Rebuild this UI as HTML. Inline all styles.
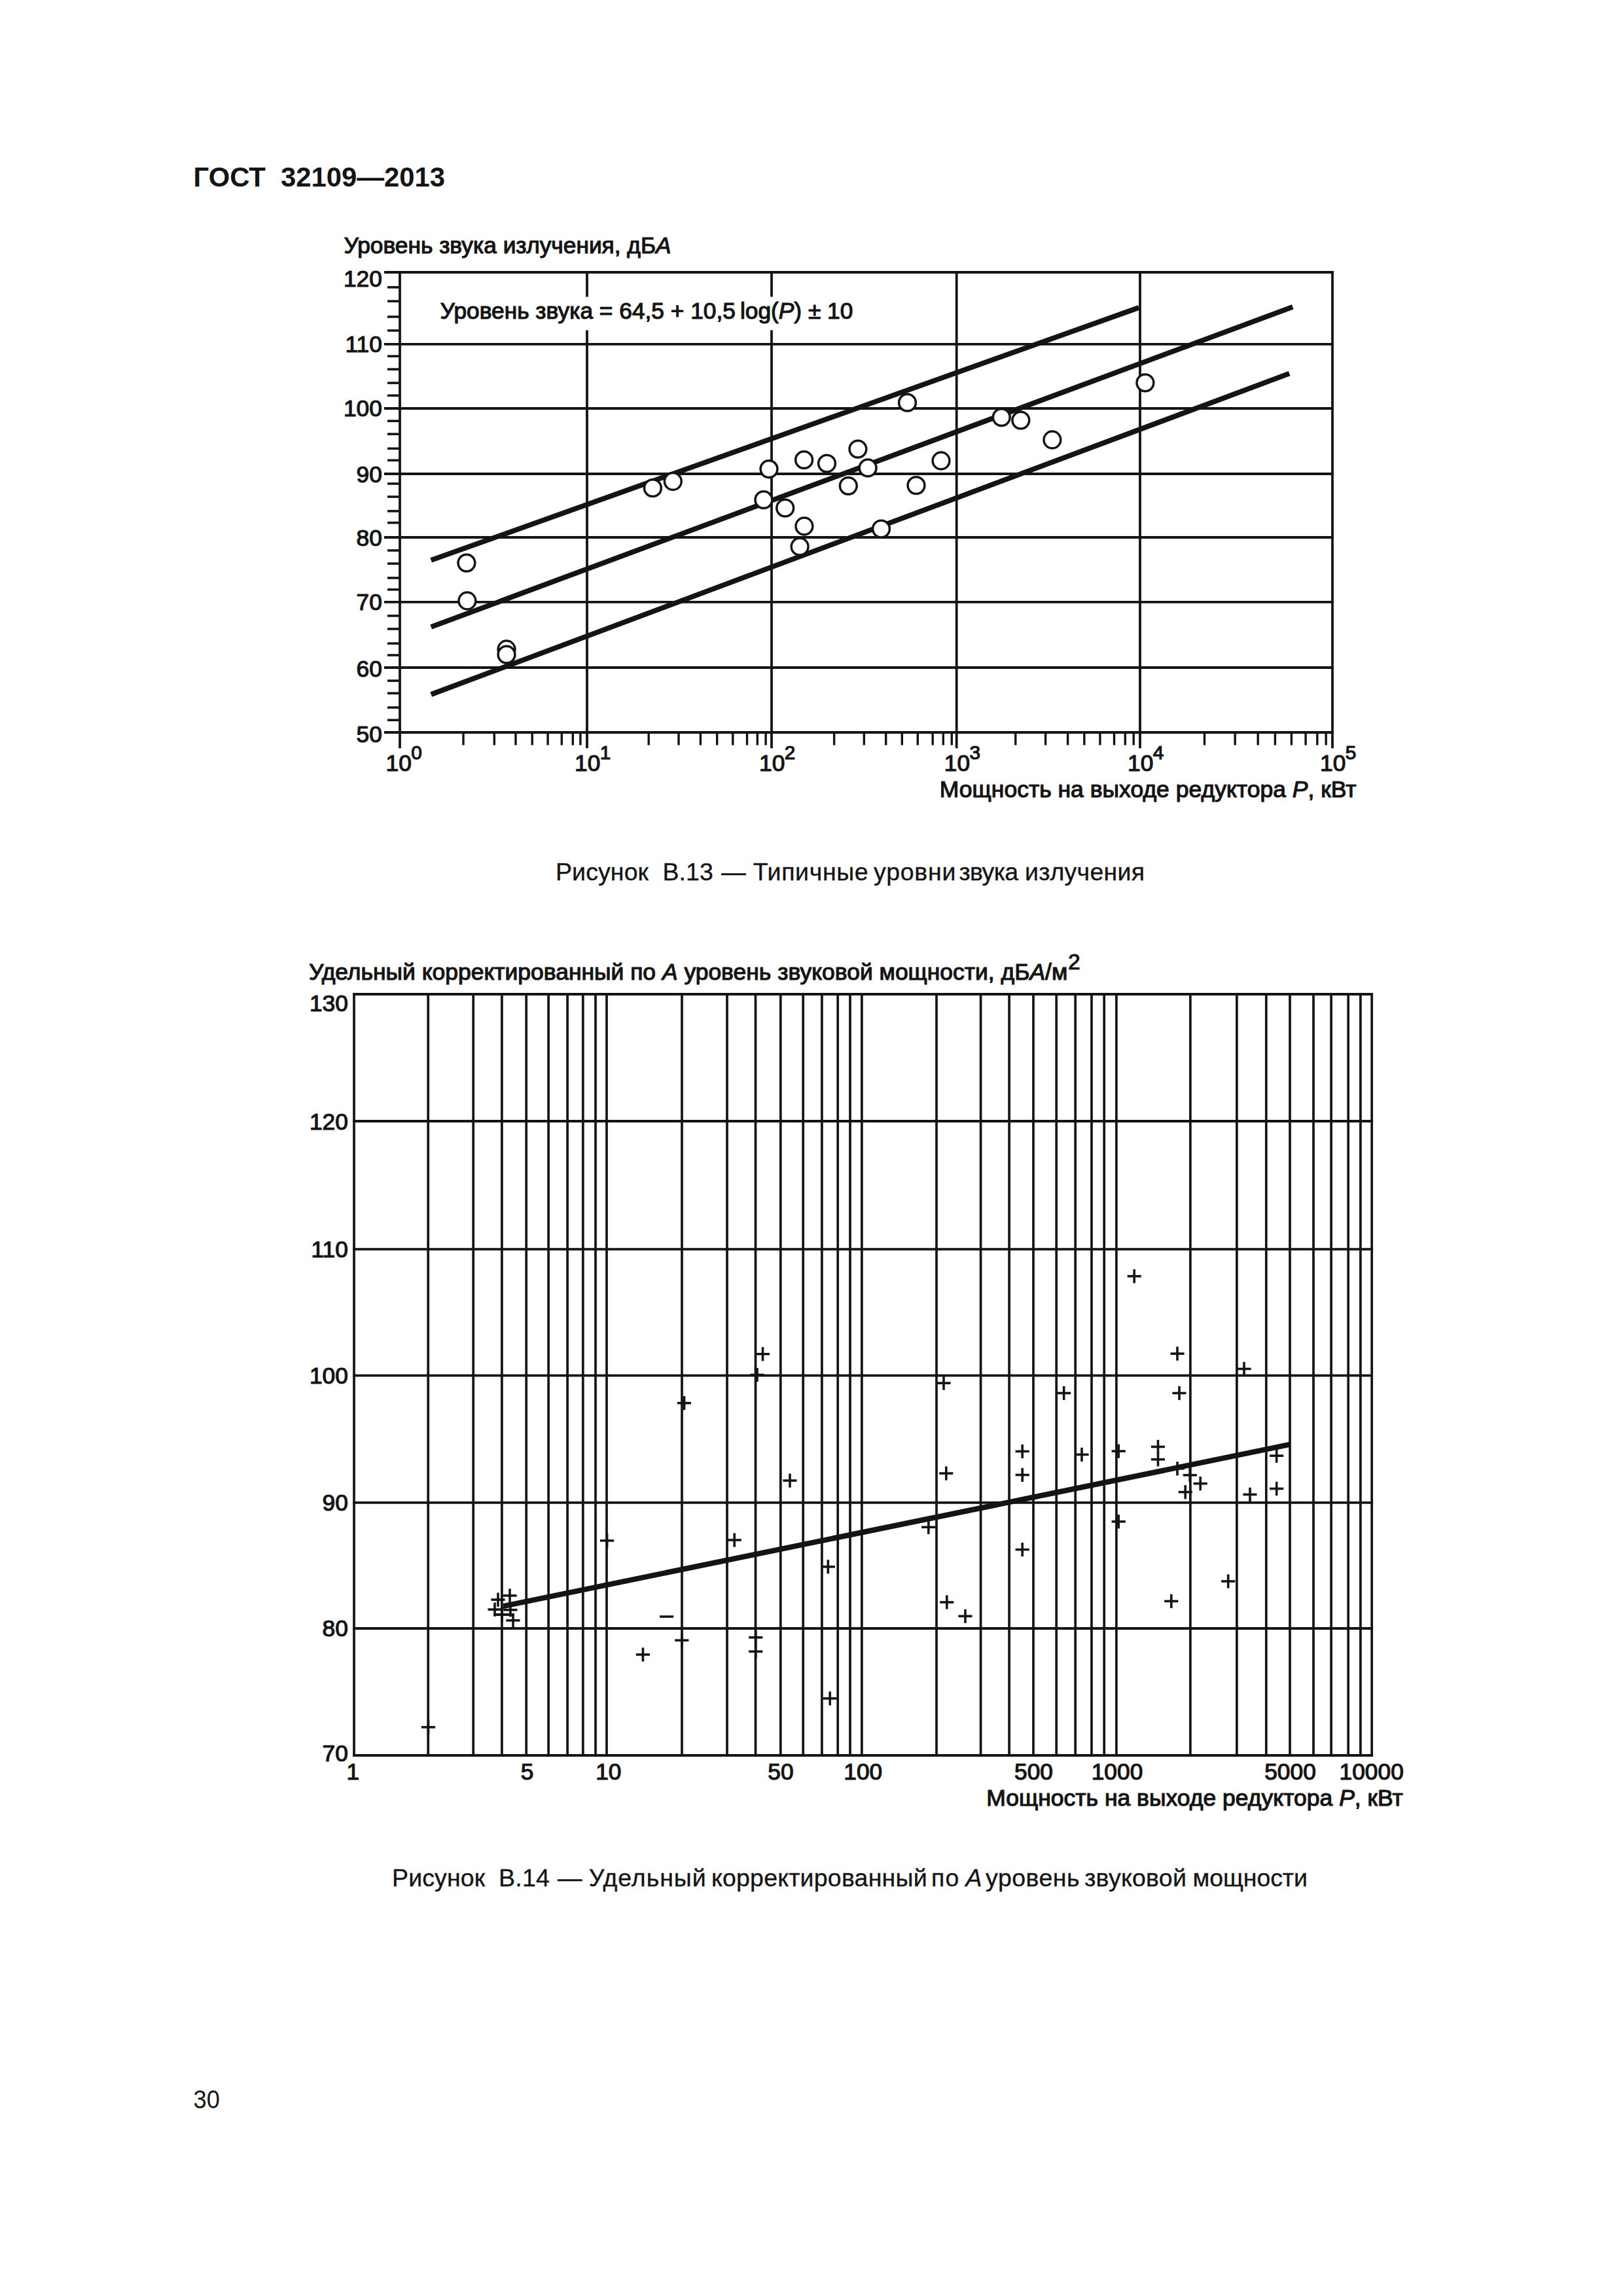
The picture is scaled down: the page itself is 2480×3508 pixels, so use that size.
<!DOCTYPE html>
<html lang="ru">
<head>
<meta charset="utf-8">
<title>ГОСТ 32109—2013</title>
<style>
html,body{margin:0;padding:0;background:#fff;}
body{width:2480px;height:3508px;overflow:hidden;position:relative;}
svg{position:absolute;left:0;top:0;display:block;}
text{font-family:"Liberation Sans",sans-serif;fill:#141414;white-space:pre;}
text.f{stroke:#141414;stroke-width:1.2px;stroke-linejoin:round;}
text.b{font-weight:bold;}
text.n{font-weight:normal;}
text.p{font-weight:normal;stroke:#141414;stroke-width:0.35px;}
</style>
</head>
<body>
<svg width="2480" height="3508" viewBox="0 0 2480 3508">
<text class="b" x="295.5" y="284.7" font-size="41.8" text-anchor="start">ГОСТ&#160;&#160;32109—2013</text>
<text class="n" transform="translate(295.6 3221.0) scale(0.945 1)" font-size="38.3">30</text>
<g stroke="#141414" fill="none">
<line x1="587.0" y1="416.0" x2="2037.9" y2="416.0" stroke-width="3.8" stroke-linecap="butt"/>
<line x1="587.0" y1="525.9" x2="2037.9" y2="525.9" stroke-width="3.8" stroke-linecap="butt"/>
<line x1="587.0" y1="624.0" x2="2037.9" y2="624.0" stroke-width="3.8" stroke-linecap="butt"/>
<line x1="587.0" y1="724.0" x2="2037.9" y2="724.0" stroke-width="3.8" stroke-linecap="butt"/>
<line x1="587.0" y1="821.0" x2="2037.9" y2="821.0" stroke-width="3.8" stroke-linecap="butt"/>
<line x1="587.0" y1="919.9" x2="2037.9" y2="919.9" stroke-width="3.8" stroke-linecap="butt"/>
<line x1="587.0" y1="1020.0" x2="2037.9" y2="1020.0" stroke-width="3.8" stroke-linecap="butt"/>
<line x1="587.0" y1="1119.0" x2="2037.9" y2="1119.0" stroke-width="3.8" stroke-linecap="butt"/>
<line x1="611.0" y1="414.1" x2="611.0" y2="1143.3" stroke-width="3.8" stroke-linecap="butt"/>
<line x1="897.0" y1="414.1" x2="897.0" y2="1143.3" stroke-width="3.8" stroke-linecap="butt"/>
<line x1="1179.0" y1="414.1" x2="1179.0" y2="1143.3" stroke-width="3.8" stroke-linecap="butt"/>
<line x1="1461.7" y1="414.1" x2="1461.7" y2="1143.3" stroke-width="3.8" stroke-linecap="butt"/>
<line x1="1742.0" y1="414.1" x2="1742.0" y2="1143.3" stroke-width="3.8" stroke-linecap="butt"/>
<line x1="2036.0" y1="414.1" x2="2036.0" y2="1143.3" stroke-width="3.8" stroke-linecap="butt"/>
<line x1="592.0" y1="438.9" x2="611.0" y2="438.9" stroke-width="3.6" stroke-linecap="butt"/>
<line x1="592.0" y1="460.2" x2="611.0" y2="460.2" stroke-width="3.6" stroke-linecap="butt"/>
<line x1="592.0" y1="484.0" x2="611.0" y2="484.0" stroke-width="3.6" stroke-linecap="butt"/>
<line x1="592.0" y1="505.0" x2="611.0" y2="505.0" stroke-width="3.6" stroke-linecap="butt"/>
<line x1="592.0" y1="544.2" x2="611.0" y2="544.2" stroke-width="3.6" stroke-linecap="butt"/>
<line x1="592.0" y1="564.2" x2="611.0" y2="564.2" stroke-width="3.6" stroke-linecap="butt"/>
<line x1="592.0" y1="585.1" x2="611.0" y2="585.1" stroke-width="3.6" stroke-linecap="butt"/>
<line x1="592.0" y1="604.3" x2="611.0" y2="604.3" stroke-width="3.6" stroke-linecap="butt"/>
<line x1="592.0" y1="643.2" x2="611.0" y2="643.2" stroke-width="3.6" stroke-linecap="butt"/>
<line x1="592.0" y1="663.2" x2="611.0" y2="663.2" stroke-width="3.6" stroke-linecap="butt"/>
<line x1="592.0" y1="685.3" x2="611.0" y2="685.3" stroke-width="3.6" stroke-linecap="butt"/>
<line x1="592.0" y1="703.3" x2="611.0" y2="703.3" stroke-width="3.6" stroke-linecap="butt"/>
<line x1="592.0" y1="739.0" x2="611.0" y2="739.0" stroke-width="3.6" stroke-linecap="butt"/>
<line x1="592.0" y1="759.0" x2="611.0" y2="759.0" stroke-width="3.6" stroke-linecap="butt"/>
<line x1="592.0" y1="780.9" x2="611.0" y2="780.9" stroke-width="3.6" stroke-linecap="butt"/>
<line x1="592.0" y1="798.7" x2="611.0" y2="798.7" stroke-width="3.6" stroke-linecap="butt"/>
<line x1="592.0" y1="841.0" x2="611.0" y2="841.0" stroke-width="3.6" stroke-linecap="butt"/>
<line x1="592.0" y1="861.1" x2="611.0" y2="861.1" stroke-width="3.6" stroke-linecap="butt"/>
<line x1="592.0" y1="883.0" x2="611.0" y2="883.0" stroke-width="3.6" stroke-linecap="butt"/>
<line x1="592.0" y1="900.8" x2="611.0" y2="900.8" stroke-width="3.6" stroke-linecap="butt"/>
<line x1="592.0" y1="940.9" x2="611.0" y2="940.9" stroke-width="3.6" stroke-linecap="butt"/>
<line x1="592.0" y1="960.9" x2="611.0" y2="960.9" stroke-width="3.6" stroke-linecap="butt"/>
<line x1="592.0" y1="983.1" x2="611.0" y2="983.1" stroke-width="3.6" stroke-linecap="butt"/>
<line x1="592.0" y1="1001.0" x2="611.0" y2="1001.0" stroke-width="3.6" stroke-linecap="butt"/>
<line x1="592.0" y1="1040.1" x2="611.0" y2="1040.1" stroke-width="3.6" stroke-linecap="butt"/>
<line x1="592.0" y1="1059.2" x2="611.0" y2="1059.2" stroke-width="3.6" stroke-linecap="butt"/>
<line x1="592.0" y1="1081.0" x2="611.0" y2="1081.0" stroke-width="3.6" stroke-linecap="butt"/>
<line x1="592.0" y1="1100.2" x2="611.0" y2="1100.2" stroke-width="3.6" stroke-linecap="butt"/>
<line x1="708.0" y1="1119.0" x2="708.0" y2="1138.5" stroke-width="3.4" stroke-linecap="butt"/>
<line x1="755.3" y1="1119.0" x2="755.3" y2="1138.5" stroke-width="3.4" stroke-linecap="butt"/>
<line x1="788.0" y1="1119.0" x2="788.0" y2="1138.5" stroke-width="3.4" stroke-linecap="butt"/>
<line x1="813.2" y1="1119.0" x2="813.2" y2="1138.5" stroke-width="3.4" stroke-linecap="butt"/>
<line x1="837.1" y1="1119.0" x2="837.1" y2="1138.5" stroke-width="3.4" stroke-linecap="butt"/>
<line x1="858.3" y1="1119.0" x2="858.3" y2="1138.5" stroke-width="3.4" stroke-linecap="butt"/>
<line x1="875.3" y1="1119.0" x2="875.3" y2="1138.5" stroke-width="3.4" stroke-linecap="butt"/>
<line x1="886.9" y1="1119.0" x2="886.9" y2="1138.5" stroke-width="3.4" stroke-linecap="butt"/>
<line x1="991.2" y1="1119.0" x2="991.2" y2="1138.5" stroke-width="3.4" stroke-linecap="butt"/>
<line x1="1037.0" y1="1119.0" x2="1037.0" y2="1138.5" stroke-width="3.4" stroke-linecap="butt"/>
<line x1="1070.4" y1="1119.0" x2="1070.4" y2="1138.5" stroke-width="3.4" stroke-linecap="butt"/>
<line x1="1095.7" y1="1119.0" x2="1095.7" y2="1138.5" stroke-width="3.4" stroke-linecap="butt"/>
<line x1="1119.8" y1="1119.0" x2="1119.8" y2="1138.5" stroke-width="3.4" stroke-linecap="butt"/>
<line x1="1141.5" y1="1119.0" x2="1141.5" y2="1138.5" stroke-width="3.4" stroke-linecap="butt"/>
<line x1="1157.3" y1="1119.0" x2="1157.3" y2="1138.5" stroke-width="3.4" stroke-linecap="butt"/>
<line x1="1170.1" y1="1119.0" x2="1170.1" y2="1138.5" stroke-width="3.4" stroke-linecap="butt"/>
<line x1="1274.6" y1="1119.0" x2="1274.6" y2="1138.5" stroke-width="3.4" stroke-linecap="butt"/>
<line x1="1320.3" y1="1119.0" x2="1320.3" y2="1138.5" stroke-width="3.4" stroke-linecap="butt"/>
<line x1="1353.7" y1="1119.0" x2="1353.7" y2="1138.5" stroke-width="3.4" stroke-linecap="butt"/>
<line x1="1378.3" y1="1119.0" x2="1378.3" y2="1138.5" stroke-width="3.4" stroke-linecap="butt"/>
<line x1="1402.3" y1="1119.0" x2="1402.3" y2="1138.5" stroke-width="3.4" stroke-linecap="butt"/>
<line x1="1425.2" y1="1119.0" x2="1425.2" y2="1138.5" stroke-width="3.4" stroke-linecap="butt"/>
<line x1="1441.3" y1="1119.0" x2="1441.3" y2="1138.5" stroke-width="3.4" stroke-linecap="butt"/>
<line x1="1454.3" y1="1119.0" x2="1454.3" y2="1138.5" stroke-width="3.4" stroke-linecap="butt"/>
<line x1="1551.8" y1="1119.0" x2="1551.8" y2="1138.5" stroke-width="3.4" stroke-linecap="butt"/>
<line x1="1597.6" y1="1119.0" x2="1597.6" y2="1138.5" stroke-width="3.4" stroke-linecap="butt"/>
<line x1="1631.6" y1="1119.0" x2="1631.6" y2="1138.5" stroke-width="3.4" stroke-linecap="butt"/>
<line x1="1656.8" y1="1119.0" x2="1656.8" y2="1138.5" stroke-width="3.4" stroke-linecap="butt"/>
<line x1="1680.9" y1="1119.0" x2="1680.9" y2="1138.5" stroke-width="3.4" stroke-linecap="butt"/>
<line x1="1702.5" y1="1119.0" x2="1702.5" y2="1138.5" stroke-width="3.4" stroke-linecap="butt"/>
<line x1="1719.3" y1="1119.0" x2="1719.3" y2="1138.5" stroke-width="3.4" stroke-linecap="butt"/>
<line x1="1732.2" y1="1119.0" x2="1732.2" y2="1138.5" stroke-width="3.4" stroke-linecap="butt"/>
<line x1="1840.5" y1="1119.0" x2="1840.5" y2="1138.5" stroke-width="3.4" stroke-linecap="butt"/>
<line x1="1887.2" y1="1119.0" x2="1887.2" y2="1138.5" stroke-width="3.4" stroke-linecap="butt"/>
<line x1="1922.2" y1="1119.0" x2="1922.2" y2="1138.5" stroke-width="3.4" stroke-linecap="butt"/>
<line x1="1948.4" y1="1119.0" x2="1948.4" y2="1138.5" stroke-width="3.4" stroke-linecap="butt"/>
<line x1="1973.4" y1="1119.0" x2="1973.4" y2="1138.5" stroke-width="3.4" stroke-linecap="butt"/>
<line x1="1995.1" y1="1119.0" x2="1995.1" y2="1138.5" stroke-width="3.4" stroke-linecap="butt"/>
<line x1="2012.8" y1="1119.0" x2="2012.8" y2="1138.5" stroke-width="3.4" stroke-linecap="butt"/>
<line x1="2026.2" y1="1119.0" x2="2026.2" y2="1138.5" stroke-width="3.4" stroke-linecap="butt"/>
</g>
<rect x="664" y="453.5" width="650" height="51" fill="#fff"/>
<g stroke="#141414" fill="none">
<line x1="658.7" y1="855.9" x2="1740.2" y2="470.0" stroke-width="7.8" stroke-linecap="butt"/>
<line x1="658.7" y1="957.9" x2="1975.3" y2="468.9" stroke-width="7.8" stroke-linecap="butt"/>
<line x1="658.7" y1="1061.0" x2="1970.2" y2="570.6" stroke-width="7.8" stroke-linecap="butt"/>
</g>
<g stroke="#141414" fill="#fff" stroke-width="3.5">
<circle cx="712.9" cy="860.1" r="12.9"/>
<circle cx="713.9" cy="918.0" r="12.9"/>
<circle cx="774.0" cy="992.0" r="12.9"/>
<circle cx="774.0" cy="1000.1" r="12.9"/>
<circle cx="997.4" cy="745.7" r="12.9"/>
<circle cx="1028.3" cy="735.5" r="12.9"/>
<circle cx="1175.0" cy="716.6" r="12.9"/>
<circle cx="1166.9" cy="763.7" r="12.9"/>
<circle cx="1199.7" cy="776.2" r="12.9"/>
<circle cx="1228.6" cy="702.7" r="12.9"/>
<circle cx="1263.5" cy="708.1" r="12.9"/>
<circle cx="1228.9" cy="804.0" r="12.9"/>
<circle cx="1222.1" cy="835.2" r="12.9"/>
<circle cx="1310.9" cy="686.1" r="12.9"/>
<circle cx="1326.1" cy="714.9" r="12.9"/>
<circle cx="1296.3" cy="742.3" r="12.9"/>
<circle cx="1346.5" cy="808.1" r="12.9"/>
<circle cx="1386.5" cy="615.2" r="12.9"/>
<circle cx="1400.0" cy="741.6" r="12.9"/>
<circle cx="1438.0" cy="704.0" r="12.9"/>
<circle cx="1530.3" cy="637.6" r="12.9"/>
<circle cx="1559.8" cy="642.1" r="12.9"/>
<circle cx="1607.9" cy="672.0" r="12.9"/>
<circle cx="1749.9" cy="584.8" r="12.9"/>
</g>
<text class="f" x="525.4" y="386.5" font-size="35.3" text-anchor="start">Уровень звука излучения, дБ<tspan font-style="italic">А</tspan></text>
<text class="f" x="672.6" y="487.2" font-size="35.3" text-anchor="start">Уровень звука = 64,5 + 10,5&#8201;log(<tspan font-style="italic">P</tspan>) ± 10</text>
<text class="f" x="583.8" y="438.3" font-size="35.3" text-anchor="end">120</text>
<text class="f" x="583.8" y="538.0" font-size="35.3" text-anchor="end">110</text>
<text class="f" x="583.8" y="636.1" font-size="35.3" text-anchor="end">100</text>
<text class="f" x="583.8" y="736.7" font-size="35.3" text-anchor="end">90</text>
<text class="f" x="583.8" y="834.0" font-size="35.3" text-anchor="end">80</text>
<text class="f" x="583.8" y="932.1" font-size="35.3" text-anchor="end">70</text>
<text class="f" x="583.8" y="1034.4" font-size="35.3" text-anchor="end">60</text>
<text class="f" x="583.8" y="1134.1" font-size="35.3" text-anchor="end">50</text>
<text class="f" x="589.5" y="1177.5" font-size="35.3">10<tspan font-size="29.8" dx="-0.6" dy="-17.4">0</tspan></text>
<text class="f" x="878.1" y="1177.5" font-size="35.3">10<tspan font-size="29.8" dx="-0.6" dy="-17.4">1</tspan></text>
<text class="f" x="1160.1" y="1177.5" font-size="35.3">10<tspan font-size="29.8" dx="-0.6" dy="-17.4">2</tspan></text>
<text class="f" x="1442.8" y="1177.5" font-size="35.3">10<tspan font-size="29.8" dx="-0.6" dy="-17.4">3</tspan></text>
<text class="f" x="1723.1" y="1177.5" font-size="35.3">10<tspan font-size="29.8" dx="-0.6" dy="-17.4">4</tspan></text>
<text class="f" x="2017.1" y="1177.5" font-size="35.3">10<tspan font-size="29.8" dx="-0.6" dy="-17.4">5</tspan></text>
<text class="f" x="2072.5" y="1218.4" font-size="35.5" text-anchor="end">Мощность на выходе редуктора <tspan font-style="italic">P</tspan>, кВт</text>
<text class="p" y="1344.9" font-size="37.5"><tspan x="849.0" style="letter-spacing:0.10px">Рисунок</tspan> &#160;<tspan x="1012.6" style="letter-spacing:0.00px">В.13</tspan> <tspan x="1102.2" style="letter-spacing:0.00px">—</tspan> <tspan x="1150.7" style="letter-spacing:0.64px">Типичные</tspan> <tspan x="1335.1" style="letter-spacing:0.74px">уровни</tspan> <tspan x="1465.5" style="letter-spacing:-0.60px">звука</tspan> <tspan x="1566.1" style="letter-spacing:0.29px">излучения</tspan></text>
<g stroke="#141414" fill="none">
<line x1="539.1" y1="1519.0" x2="2098.1" y2="1519.0" stroke-width="3.8" stroke-linecap="butt"/>
<line x1="539.1" y1="1713.0" x2="2098.1" y2="1713.0" stroke-width="3.8" stroke-linecap="butt"/>
<line x1="539.1" y1="1908.6" x2="2098.1" y2="1908.6" stroke-width="3.8" stroke-linecap="butt"/>
<line x1="539.1" y1="2101.6" x2="2098.1" y2="2101.6" stroke-width="3.8" stroke-linecap="butt"/>
<line x1="539.1" y1="2295.8" x2="2098.1" y2="2295.8" stroke-width="3.8" stroke-linecap="butt"/>
<line x1="539.1" y1="2488.0" x2="2098.1" y2="2488.0" stroke-width="3.8" stroke-linecap="butt"/>
<line x1="539.1" y1="2682.0" x2="2098.1" y2="2682.0" stroke-width="3.8" stroke-linecap="butt"/>
<line x1="541.0" y1="1519.0" x2="541.0" y2="2682.0" stroke-width="3.7" stroke-linecap="butt"/>
<line x1="654.2" y1="1519.0" x2="654.2" y2="2682.0" stroke-width="3.7" stroke-linecap="butt"/>
<line x1="723.2" y1="1519.0" x2="723.2" y2="2682.0" stroke-width="3.7" stroke-linecap="butt"/>
<line x1="766.9" y1="1519.0" x2="766.9" y2="2682.0" stroke-width="3.7" stroke-linecap="butt"/>
<line x1="804.2" y1="1519.0" x2="804.2" y2="2682.0" stroke-width="3.7" stroke-linecap="butt"/>
<line x1="838.1" y1="1519.0" x2="838.1" y2="2682.0" stroke-width="3.7" stroke-linecap="butt"/>
<line x1="867.1" y1="1519.0" x2="867.1" y2="2682.0" stroke-width="3.7" stroke-linecap="butt"/>
<line x1="890.8" y1="1519.0" x2="890.8" y2="2682.0" stroke-width="3.7" stroke-linecap="butt"/>
<line x1="910.0" y1="1519.0" x2="910.0" y2="2682.0" stroke-width="3.7" stroke-linecap="butt"/>
<line x1="927.0" y1="1519.0" x2="927.0" y2="2682.0" stroke-width="3.7" stroke-linecap="butt"/>
<line x1="1042.0" y1="1519.0" x2="1042.0" y2="2682.0" stroke-width="3.7" stroke-linecap="butt"/>
<line x1="1111.0" y1="1519.0" x2="1111.0" y2="2682.0" stroke-width="3.7" stroke-linecap="butt"/>
<line x1="1154.5" y1="1519.0" x2="1154.5" y2="2682.0" stroke-width="3.7" stroke-linecap="butt"/>
<line x1="1192.8" y1="1519.0" x2="1192.8" y2="2682.0" stroke-width="3.7" stroke-linecap="butt"/>
<line x1="1227.2" y1="1519.0" x2="1227.2" y2="2682.0" stroke-width="3.7" stroke-linecap="butt"/>
<line x1="1255.9" y1="1519.0" x2="1255.9" y2="2682.0" stroke-width="3.7" stroke-linecap="butt"/>
<line x1="1280.2" y1="1519.0" x2="1280.2" y2="2682.0" stroke-width="3.7" stroke-linecap="butt"/>
<line x1="1299.0" y1="1519.0" x2="1299.0" y2="2682.0" stroke-width="3.7" stroke-linecap="butt"/>
<line x1="1316.9" y1="1519.0" x2="1316.9" y2="2682.0" stroke-width="3.7" stroke-linecap="butt"/>
<line x1="1431.0" y1="1519.0" x2="1431.0" y2="2682.0" stroke-width="3.7" stroke-linecap="butt"/>
<line x1="1498.6" y1="1519.0" x2="1498.6" y2="2682.0" stroke-width="3.7" stroke-linecap="butt"/>
<line x1="1542.1" y1="1519.0" x2="1542.1" y2="2682.0" stroke-width="3.7" stroke-linecap="butt"/>
<line x1="1579.0" y1="1519.0" x2="1579.0" y2="2682.0" stroke-width="3.7" stroke-linecap="butt"/>
<line x1="1614.2" y1="1519.0" x2="1614.2" y2="2682.0" stroke-width="3.7" stroke-linecap="butt"/>
<line x1="1643.2" y1="1519.0" x2="1643.2" y2="2682.0" stroke-width="3.7" stroke-linecap="butt"/>
<line x1="1668.0" y1="1519.0" x2="1668.0" y2="2682.0" stroke-width="3.7" stroke-linecap="butt"/>
<line x1="1687.2" y1="1519.0" x2="1687.2" y2="2682.0" stroke-width="3.7" stroke-linecap="butt"/>
<line x1="1705.9" y1="1519.0" x2="1705.9" y2="2682.0" stroke-width="3.7" stroke-linecap="butt"/>
<line x1="1818.9" y1="1519.0" x2="1818.9" y2="2682.0" stroke-width="3.7" stroke-linecap="butt"/>
<line x1="1889.9" y1="1519.0" x2="1889.9" y2="2682.0" stroke-width="3.7" stroke-linecap="butt"/>
<line x1="1934.8" y1="1519.0" x2="1934.8" y2="2682.0" stroke-width="3.7" stroke-linecap="butt"/>
<line x1="1971.0" y1="1519.0" x2="1971.0" y2="2682.0" stroke-width="3.7" stroke-linecap="butt"/>
<line x1="2007.0" y1="1519.0" x2="2007.0" y2="2682.0" stroke-width="3.7" stroke-linecap="butt"/>
<line x1="2034.1" y1="1519.0" x2="2034.1" y2="2682.0" stroke-width="3.7" stroke-linecap="butt"/>
<line x1="2060.2" y1="1519.0" x2="2060.2" y2="2682.0" stroke-width="3.7" stroke-linecap="butt"/>
<line x1="2078.9" y1="1519.0" x2="2078.9" y2="2682.0" stroke-width="3.7" stroke-linecap="butt"/>
<line x1="2096.2" y1="1519.0" x2="2096.2" y2="2682.0" stroke-width="3.7" stroke-linecap="butt"/>
<polygon points="768.8,2449.9 1971.2,2202.7 1971.2,2211.1 768.8,2458.3" fill="#141414" stroke="none"/>
</g>
<g stroke="#141414" fill="none">
<line x1="643.9" y1="2638.9" x2="665.1" y2="2638.9" stroke-width="3.6" stroke-linecap="butt"/>
<line x1="654.5" y1="2628.3" x2="654.5" y2="2649.5" stroke-width="3.6" stroke-linecap="butt"/>
<line x1="917.0" y1="2353.9" x2="938.2" y2="2353.9" stroke-width="3.6" stroke-linecap="butt"/>
<line x1="927.6" y1="2343.3" x2="927.6" y2="2364.5" stroke-width="3.6" stroke-linecap="butt"/>
<line x1="1111.6" y1="2353.0" x2="1132.8" y2="2353.0" stroke-width="3.6" stroke-linecap="butt"/>
<line x1="1122.2" y1="2342.4" x2="1122.2" y2="2363.6" stroke-width="3.6" stroke-linecap="butt"/>
<line x1="1031.2" y1="2506.2" x2="1052.4" y2="2506.2" stroke-width="3.6" stroke-linecap="butt"/>
<line x1="1041.8" y1="2495.6" x2="1041.8" y2="2516.8" stroke-width="3.6" stroke-linecap="butt"/>
<line x1="971.8" y1="2528.0" x2="993.0" y2="2528.0" stroke-width="3.6" stroke-linecap="butt"/>
<line x1="982.4" y1="2517.4" x2="982.4" y2="2538.6" stroke-width="3.6" stroke-linecap="butt"/>
<line x1="750.4" y1="2444.1" x2="771.6" y2="2444.1" stroke-width="3.6" stroke-linecap="butt"/>
<line x1="761.0" y1="2433.5" x2="761.0" y2="2454.7" stroke-width="3.6" stroke-linecap="butt"/>
<line x1="768.4" y1="2437.9" x2="789.6" y2="2437.9" stroke-width="3.6" stroke-linecap="butt"/>
<line x1="779.0" y1="2427.3" x2="779.0" y2="2448.5" stroke-width="3.6" stroke-linecap="butt"/>
<line x1="745.4" y1="2459.1" x2="766.6" y2="2459.1" stroke-width="3.6" stroke-linecap="butt"/>
<line x1="756.0" y1="2448.5" x2="756.0" y2="2469.7" stroke-width="3.6" stroke-linecap="butt"/>
<line x1="769.3" y1="2459.7" x2="790.5" y2="2459.7" stroke-width="3.6" stroke-linecap="butt"/>
<line x1="779.9" y1="2449.1" x2="779.9" y2="2470.3" stroke-width="3.6" stroke-linecap="butt"/>
<line x1="756.4" y1="2466.9" x2="777.6" y2="2466.9" stroke-width="3.6" stroke-linecap="butt"/>
<line x1="767.0" y1="2456.3" x2="767.0" y2="2477.5" stroke-width="3.6" stroke-linecap="butt"/>
<line x1="773.4" y1="2475.8" x2="794.6" y2="2475.8" stroke-width="3.6" stroke-linecap="butt"/>
<line x1="784.0" y1="2465.2" x2="784.0" y2="2486.4" stroke-width="3.6" stroke-linecap="butt"/>
<line x1="1154.9" y1="2068.8" x2="1176.0" y2="2068.8" stroke-width="3.6" stroke-linecap="butt"/>
<line x1="1165.5" y1="2058.2" x2="1165.5" y2="2079.4" stroke-width="3.6" stroke-linecap="butt"/>
<line x1="1146.4" y1="2100.6" x2="1167.5" y2="2100.6" stroke-width="3.6" stroke-linecap="butt"/>
<line x1="1157.0" y1="2090.0" x2="1157.0" y2="2111.2" stroke-width="3.6" stroke-linecap="butt"/>
<line x1="1034.9" y1="2143.7" x2="1056.0" y2="2143.7" stroke-width="3.6" stroke-linecap="butt"/>
<line x1="1045.5" y1="2133.1" x2="1045.5" y2="2154.3" stroke-width="3.6" stroke-linecap="butt"/>
<line x1="1196.4" y1="2262.1" x2="1217.5" y2="2262.1" stroke-width="3.6" stroke-linecap="butt"/>
<line x1="1207.0" y1="2251.5" x2="1207.0" y2="2272.7" stroke-width="3.6" stroke-linecap="butt"/>
<line x1="1254.8" y1="2393.8" x2="1275.9" y2="2393.8" stroke-width="3.6" stroke-linecap="butt"/>
<line x1="1265.3" y1="2383.2" x2="1265.3" y2="2404.4" stroke-width="3.6" stroke-linecap="butt"/>
<line x1="1431.5" y1="2113.2" x2="1452.6" y2="2113.2" stroke-width="3.6" stroke-linecap="butt"/>
<line x1="1442.0" y1="2102.6" x2="1442.0" y2="2123.8" stroke-width="3.6" stroke-linecap="butt"/>
<line x1="1435.2" y1="2251.1" x2="1456.3" y2="2251.1" stroke-width="3.6" stroke-linecap="butt"/>
<line x1="1445.8" y1="2240.5" x2="1445.8" y2="2261.7" stroke-width="3.6" stroke-linecap="butt"/>
<line x1="1408.2" y1="2333.3" x2="1429.3" y2="2333.3" stroke-width="3.6" stroke-linecap="butt"/>
<line x1="1418.8" y1="2322.7" x2="1418.8" y2="2343.9" stroke-width="3.6" stroke-linecap="butt"/>
<line x1="1551.6" y1="2217.5" x2="1572.8" y2="2217.5" stroke-width="3.6" stroke-linecap="butt"/>
<line x1="1562.2" y1="2206.9" x2="1562.2" y2="2228.1" stroke-width="3.6" stroke-linecap="butt"/>
<line x1="1551.6" y1="2253.5" x2="1572.8" y2="2253.5" stroke-width="3.6" stroke-linecap="butt"/>
<line x1="1562.2" y1="2242.9" x2="1562.2" y2="2264.1" stroke-width="3.6" stroke-linecap="butt"/>
<line x1="1551.6" y1="2367.6" x2="1572.8" y2="2367.6" stroke-width="3.6" stroke-linecap="butt"/>
<line x1="1562.2" y1="2357.0" x2="1562.2" y2="2378.2" stroke-width="3.6" stroke-linecap="butt"/>
<line x1="1436.2" y1="2448.0" x2="1457.4" y2="2448.0" stroke-width="3.6" stroke-linecap="butt"/>
<line x1="1446.8" y1="2437.4" x2="1446.8" y2="2458.6" stroke-width="3.6" stroke-linecap="butt"/>
<line x1="1464.4" y1="2469.3" x2="1485.5" y2="2469.3" stroke-width="3.6" stroke-linecap="butt"/>
<line x1="1475.0" y1="2458.7" x2="1475.0" y2="2479.9" stroke-width="3.6" stroke-linecap="butt"/>
<line x1="1722.7" y1="1949.9" x2="1743.8" y2="1949.9" stroke-width="3.6" stroke-linecap="butt"/>
<line x1="1733.2" y1="1939.3" x2="1733.2" y2="1960.5" stroke-width="3.6" stroke-linecap="butt"/>
<line x1="1788.5" y1="2068.2" x2="1809.6" y2="2068.2" stroke-width="3.6" stroke-linecap="butt"/>
<line x1="1799.0" y1="2057.6" x2="1799.0" y2="2078.8" stroke-width="3.6" stroke-linecap="butt"/>
<line x1="1890.5" y1="2091.5" x2="1911.6" y2="2091.5" stroke-width="3.6" stroke-linecap="butt"/>
<line x1="1901.0" y1="2080.9" x2="1901.0" y2="2102.1" stroke-width="3.6" stroke-linecap="butt"/>
<line x1="1615.1" y1="2128.5" x2="1636.2" y2="2128.5" stroke-width="3.6" stroke-linecap="butt"/>
<line x1="1625.7" y1="2117.9" x2="1625.7" y2="2139.1" stroke-width="3.6" stroke-linecap="butt"/>
<line x1="1791.4" y1="2128.5" x2="1812.5" y2="2128.5" stroke-width="3.6" stroke-linecap="butt"/>
<line x1="1802.0" y1="2117.9" x2="1802.0" y2="2139.1" stroke-width="3.6" stroke-linecap="butt"/>
<line x1="1642.5" y1="2222.4" x2="1663.6" y2="2222.4" stroke-width="3.6" stroke-linecap="butt"/>
<line x1="1653.0" y1="2211.8" x2="1653.0" y2="2233.0" stroke-width="3.6" stroke-linecap="butt"/>
<line x1="1698.6" y1="2217.2" x2="1719.8" y2="2217.2" stroke-width="3.6" stroke-linecap="butt"/>
<line x1="1709.2" y1="2206.6" x2="1709.2" y2="2227.8" stroke-width="3.6" stroke-linecap="butt"/>
<line x1="1758.9" y1="2210.5" x2="1780.0" y2="2210.5" stroke-width="3.6" stroke-linecap="butt"/>
<line x1="1769.5" y1="2199.9" x2="1769.5" y2="2221.1" stroke-width="3.6" stroke-linecap="butt"/>
<line x1="1758.9" y1="2229.8" x2="1780.0" y2="2229.8" stroke-width="3.6" stroke-linecap="butt"/>
<line x1="1769.5" y1="2219.2" x2="1769.5" y2="2240.4" stroke-width="3.6" stroke-linecap="butt"/>
<line x1="1940.1" y1="2224.2" x2="1961.2" y2="2224.2" stroke-width="3.6" stroke-linecap="butt"/>
<line x1="1950.7" y1="2213.6" x2="1950.7" y2="2234.8" stroke-width="3.6" stroke-linecap="butt"/>
<line x1="1788.5" y1="2243.8" x2="1809.6" y2="2243.8" stroke-width="3.6" stroke-linecap="butt"/>
<line x1="1799.0" y1="2233.2" x2="1799.0" y2="2254.4" stroke-width="3.6" stroke-linecap="butt"/>
<line x1="1807.7" y1="2253.8" x2="1828.8" y2="2253.8" stroke-width="3.6" stroke-linecap="butt"/>
<line x1="1818.2" y1="2243.2" x2="1818.2" y2="2264.4" stroke-width="3.6" stroke-linecap="butt"/>
<line x1="1823.6" y1="2266.7" x2="1844.8" y2="2266.7" stroke-width="3.6" stroke-linecap="butt"/>
<line x1="1834.2" y1="2256.1" x2="1834.2" y2="2277.3" stroke-width="3.6" stroke-linecap="butt"/>
<line x1="1800.7" y1="2279.7" x2="1821.8" y2="2279.7" stroke-width="3.6" stroke-linecap="butt"/>
<line x1="1811.2" y1="2269.1" x2="1811.2" y2="2290.3" stroke-width="3.6" stroke-linecap="butt"/>
<line x1="1899.4" y1="2283.4" x2="1920.5" y2="2283.4" stroke-width="3.6" stroke-linecap="butt"/>
<line x1="1910.0" y1="2272.8" x2="1910.0" y2="2294.0" stroke-width="3.6" stroke-linecap="butt"/>
<line x1="1940.1" y1="2274.5" x2="1961.2" y2="2274.5" stroke-width="3.6" stroke-linecap="butt"/>
<line x1="1950.7" y1="2263.9" x2="1950.7" y2="2285.1" stroke-width="3.6" stroke-linecap="butt"/>
<line x1="1698.6" y1="2324.8" x2="1719.8" y2="2324.8" stroke-width="3.6" stroke-linecap="butt"/>
<line x1="1709.2" y1="2314.2" x2="1709.2" y2="2335.4" stroke-width="3.6" stroke-linecap="butt"/>
<line x1="1866.1" y1="2416.0" x2="1887.2" y2="2416.0" stroke-width="3.6" stroke-linecap="butt"/>
<line x1="1876.7" y1="2405.4" x2="1876.7" y2="2426.6" stroke-width="3.6" stroke-linecap="butt"/>
<line x1="1779.2" y1="2446.4" x2="1800.3" y2="2446.4" stroke-width="3.6" stroke-linecap="butt"/>
<line x1="1789.8" y1="2435.8" x2="1789.8" y2="2457.0" stroke-width="3.6" stroke-linecap="butt"/>
<line x1="1144.2" y1="2501.8" x2="1165.3" y2="2501.8" stroke-width="3.6" stroke-linecap="butt"/>
<line x1="1154.8" y1="2491.2" x2="1154.8" y2="2512.4" stroke-width="3.6" stroke-linecap="butt"/>
<line x1="1144.2" y1="2523.3" x2="1165.3" y2="2523.3" stroke-width="3.6" stroke-linecap="butt"/>
<line x1="1154.8" y1="2512.7" x2="1154.8" y2="2533.9" stroke-width="3.6" stroke-linecap="butt"/>
<line x1="1257.7" y1="2595.0" x2="1278.8" y2="2595.0" stroke-width="3.6" stroke-linecap="butt"/>
<line x1="1268.2" y1="2584.4" x2="1268.2" y2="2605.6" stroke-width="3.6" stroke-linecap="butt"/>
<line x1="754.4" y1="2466.9" x2="785.8" y2="2466.9" stroke-width="3.6" stroke-linecap="butt"/>
<line x1="1008.0" y1="2470.0" x2="1029.2" y2="2470.0" stroke-width="3.6" stroke-linecap="butt"/>
</g>
<text class="f" x="471.9" y="1496.9" font-size="35.45">Удельный корректированный по <tspan font-style="italic">А</tspan> уровень звуковой мощности, дБ<tspan font-style="italic">А</tspan>/м<tspan font-size="33" dy="-16" dx="1">2</tspan></text>
<text class="f" x="531.8" y="1544.6" font-size="35.3" text-anchor="end">130</text>
<text class="f" x="531.8" y="1725.5" font-size="35.3" text-anchor="end">120</text>
<text class="f" x="531.8" y="1920.9" font-size="35.3" text-anchor="end">110</text>
<text class="f" x="531.8" y="2113.9" font-size="35.3" text-anchor="end">100</text>
<text class="f" x="531.8" y="2307.7" font-size="35.3" text-anchor="end">90</text>
<text class="f" x="531.8" y="2500.1" font-size="35.3" text-anchor="end">80</text>
<text class="f" x="531.8" y="2691.2" font-size="35.3" text-anchor="end">70</text>
<text class="f" x="539.4" y="2718.6" font-size="35.3" text-anchor="middle">1</text>
<text class="f" x="805.6" y="2718.6" font-size="35.3" text-anchor="middle">5</text>
<text class="f" x="929.8" y="2718.6" font-size="35.3" text-anchor="middle">10</text>
<text class="f" x="1193.0" y="2718.6" font-size="35.3" text-anchor="middle">50</text>
<text class="f" x="1318.8" y="2718.6" font-size="35.3" text-anchor="middle">100</text>
<text class="f" x="1579.5" y="2718.6" font-size="35.3" text-anchor="middle">500</text>
<text class="f" x="1707.0" y="2718.6" font-size="35.3" text-anchor="middle">1000</text>
<text class="f" x="1971.5" y="2718.6" font-size="35.3" text-anchor="middle">5000</text>
<text class="f" x="2095.7" y="2718.6" font-size="35.3" text-anchor="middle">10000</text>
<text class="f" x="2143.9" y="2759.4" font-size="35.5" text-anchor="end">Мощность на выходе редуктора <tspan font-style="italic">P</tspan>, кВт</text>
<text class="p" y="2881.6" font-size="37.5"><tspan x="599.0" style="letter-spacing:0.12px">Рисунок</tspan> &#160;<tspan x="762.0" style="letter-spacing:0.27px">В.14</tspan> <tspan x="852.0" style="letter-spacing:0.00px">—</tspan> <tspan x="899.7" style="letter-spacing:0.93px">Удельный</tspan> <tspan x="1086.9" style="letter-spacing:0.21px">корректированный</tspan> <tspan x="1423.1" style="letter-spacing:1.00px">по</tspan> <tspan x="1475.6" font-style="italic" style="letter-spacing:0.00px">А</tspan> <tspan x="1506.1" style="letter-spacing:0.47px">уровень</tspan> <tspan x="1657.2" style="letter-spacing:0.24px">звуковой</tspan> <tspan x="1822.6" style="letter-spacing:-0.09px">мощности</tspan></text>
</svg>
</body>
</html>
